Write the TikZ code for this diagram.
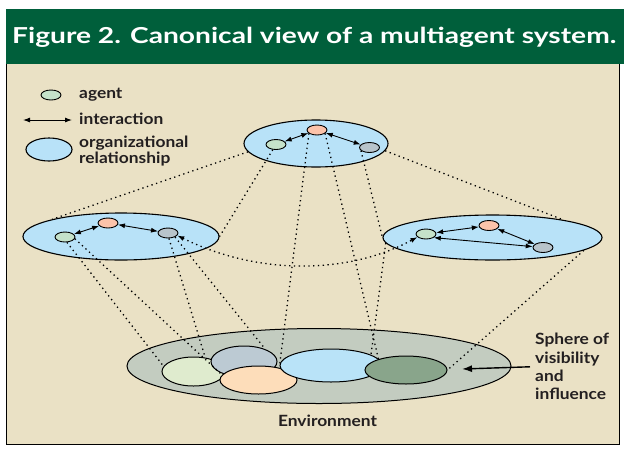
\documentclass[tikz,border=0pt]{standalone}
\usepackage{fontspec}
\setmainfont{Lato}
\newfontfamily\labelfont[FakeStretch=1.12]{Lato}
\newfontfamily\titlefont[FakeStretch=1.28]{Lato}
\usetikzlibrary{shapes.geometric,arrows.meta}

\definecolor{bgbeige}{HTML}{EAE1C5}
\definecolor{titlegreen}{HTML}{005F3B}
\definecolor{orgblue}{HTML}{B8E2F8}
\definecolor{agreen}{HTML}{C5E2CA}
\definecolor{ared}{HTML}{FCC3AA}
\definecolor{agrey}{HTML}{B8C4CB}
\definecolor{envgrey}{HTML}{C3CCC0}
\definecolor{envlgreen}{HTML}{DFEBCE}
\definecolor{envgblue}{HTML}{BCCAD3}
\definecolor{envpeach}{HTML}{FDDDBA}
\definecolor{envblue}{HTML}{B9E3F8}
\definecolor{envdgreen}{HTML}{89A58B}
\definecolor{inkblack}{HTML}{231F20}

\tikzset{
  org/.style={ellipse, draw, line width=1.1pt, fill=orgblue, inner sep=0pt},
  agent/.style={ellipse, draw, line width=0.9pt, inner sep=0pt, minimum width=20pt, minimum height=10pt},
  envpart/.style={ellipse, draw, line width=1pt, inner sep=0pt},
  inter/.style={{Latex[length=7pt,width=5pt]}-{Latex[length=7pt,width=5pt]}, line width=0.9pt},
  link/.style={line width=1.3pt, dash pattern=on 1.3pt off 3.5pt},
  lbl/.style={font=\labelfont\bfseries\fontsize{15.5}{15.7}\selectfont, text=inkblack, inner sep=0pt, align=left},
}

\begin{document}
\begin{tikzpicture}[x=1pt,y=-1pt]
\useasboundingbox (0,0) rectangle (624,448);
% frame and title bar
\fill[white] (0,0) rectangle (624,448);
\draw[fill=bgbeige, line width=0.8pt] (6,9) rectangle (619,444);
\fill[titlegreen] (6,9) rectangle (624,64);
\node[anchor=base west, text=white, font=\titlefont\bfseries\fontsize{22}{26}\selectfont, inner sep=0pt] (title) at (12,43) {Figure 2. Canonical view of a multiagent system.};

% legend
\node[agent, fill=agreen] (keyagent) at (51,95) {};
\node[lbl, anchor=west] (tagent) at (79,95) {agent};
\coordinate (keyl) at (23,120);
\coordinate (keyr) at (72,120);
\draw[inter] (keyl) -- (keyr);
\node[lbl, anchor=west] (tinter) at (79,119) {interaction};
\node[org, minimum width=46pt, minimum height=23pt] (keyorg) at (49,149.5) {};
\node[lbl, anchor=west] (torg) at (79,151) {organizational\\relationship};

% organizations
\node[org, minimum width=144pt, minimum height=47pt] (top) at (316,143.5) {};
\node[org, minimum width=196pt, minimum height=47pt] (left) at (121,236.5) {};
\node[org, minimum width=219pt, minimum height=45pt] (right) at (492.5,237.5) {};

% agents
\node[agent, fill=agreen] (tg) at (276,144.5) {};
\node[agent, fill=ared] (tr) at (317,130) {};
\node[agent, fill=agrey] (tb) at (369.5,147.5) {};
\node[agent, fill=agreen] (lg) at (65,237) {};
\node[agent, fill=ared] (lr) at (108,223) {};
\node[agent, fill=agrey] (lb) at (168,233) {};
\node[agent, fill=agreen] (rg) at (426,234) {};
\node[agent, fill=ared] (rr) at (489,225.5) {};
\node[agent, fill=agrey] (rb) at (543,247.5) {};

% interactions
\draw[inter] (tg) -- (tr);
\draw[inter] (tr) -- (tb);
\draw[inter] (lg) -- (lr);
\draw[inter] (lr) -- (lb);
\draw[inter] (rg) -- (rr);
\draw[inter] (rr) -- (rb);
\draw[inter] (rg.-25) -- (rb.175);

% environment
\node[envpart, fill=envgrey, minimum width=384pt, minimum height=75pt] (env) at (319,366) {};
\node[envpart, fill=envlgreen, minimum width=63pt, minimum height=29pt] (e1) at (193.5,371.5) {};
\node[envpart, fill=envgblue, minimum width=66pt, minimum height=31pt] (e2) at (244,361.5) {};
\node[envpart, fill=envpeach, minimum width=77pt, minimum height=28pt] (e3) at (258.5,380) {};
\node[envpart, fill=envblue, minimum width=102pt, minimum height=33pt] (e4) at (331,365.5) {};
\node[envpart, fill=envdgreen, minimum width=82pt, minimum height=28pt] (e5) at (406,370) {};
\node[lbl] (tenv) at (327.5,421) {Environment};

% sphere of visibility
\node[lbl, anchor=north west, font=\labelfont\bfseries\fontsize{15.5}{18.4}\selectfont] (sphere) at (535,333) {Sphere of\\visibility\\and\\influence};
\coordinate (sphtip) at (462,369);
\draw[line width=1.4pt, -{Latex[length=10pt,width=7pt]}, shorten <=5pt] (sphere.west) -- (sphtip);

% dotted links between the layers
\draw[link] (top.187) -- (left.166);
\draw[link] (top.-6) -- (right.14);
\draw[link] (tg) -- (left.east);
\draw[link] (tr.203) -- (e4.178);
\draw[link] (tr.-23) -- (e4.8);
\draw[link] (tb.200) -- (right.west);
\draw[link] (right.183) -- (e4.15);
\draw[link] (right.-8) -- (e5.east);
\draw[link] (lg.-70) -- (e1.170);
\draw[link] (lg.-10) -- (e3.172);
\draw[link] (lb.-80) -- (e1.50);
\draw[link] (lb.-30) -- (e2.30);
\draw[link, {Latex[length=7pt,width=5pt]}-{Latex[length=7pt,width=5pt]}] (lb.-15) .. controls (255,274) and (345,276) .. (rg.200);
\end{tikzpicture}
\end{document}
